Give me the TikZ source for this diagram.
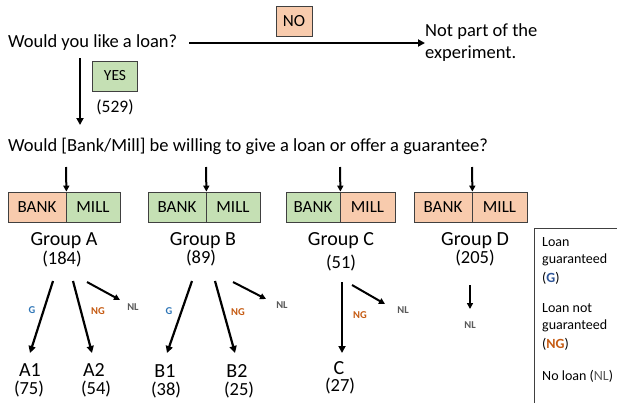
\documentclass[tikz,border=0pt]{standalone}
\usepackage{fontspec}
\setmainfont{Carlito}
\usetikzlibrary{arrows.meta}
\definecolor{orangefill}{HTML}{F8CBAD}
\definecolor{greenfill}{HTML}{C5E0B4}
\definecolor{boxline}{HTML}{404040}
\definecolor{gblue}{HTML}{2E75B6}
\definecolor{ngbrown}{HTML}{C55A11}
\definecolor{nlgray}{HTML}{595959}
\definecolor{legblue}{HTML}{2F5597}
\begin{document}
\begin{tikzpicture}[x=1pt,y=-1pt,
  txt/.style={inner sep=0pt, font=\fontsize{18.5}{22}\selectfont},
  grp/.style={inner sep=0pt, font=\fontsize{20}{22}\selectfont},
  cnt/.style={inner sep=0pt, font=\fontsize{18.5}{20}\selectfont},
  tag/.style={draw=boxline, line width=0.8pt, inner sep=0pt, minimum height=30pt, font=\fontsize{17}{18}\selectfont},
  og/.style={tag, fill=orangefill},
  gr/.style={tag, fill=greenfill},
  lab/.style={inner sep=0pt, font=\fontsize{10.5}{12}\selectfont\bfseries},
  arr/.style={line width=2.2pt, -{Triangle[length=7pt,width=7pt]}},
  sarr/.style={line width=2pt, -{Triangle[length=6pt,width=6pt]}},
  leg/.style={inner sep=0pt, anchor=west, font=\fontsize{14}{16}\selectfont}
]
\useasboundingbox (0,0) rectangle (617,402);

% top part
\node[txt, anchor=west] (q1) at (8,43) {Would you like a loan?};
\node[txt, anchor=west, align=left] (np) at (425,43) {Not part of the\\experiment.};
\draw[arr] (q1.east) ++(12,0) coordinate (hs) -- (np.west |- hs) ;
\node[og, minimum width=36pt] (no) at (294,21) {NO};
\coordinate (vs) at (80,58);
\node[txt, anchor=west] (q2) at (8,146) {Would [Bank/Mill] be willing to give a loan or offer a guarantee?};
\draw[arr] (vs) -- (80,125);
\node[gr, minimum width=45pt, font=\fontsize{15.5}{17}\selectfont] (yes) at (115,76) {YES};
\node[txt, font=\fontsize{17.5}{20}\selectfont] (n529) at (115,107) {(529)};

% boxes
\node[og, minimum width=58pt] (aBank) at (37,207) {BANK};
\node[gr, minimum width=54pt] (aMill) at (93,207) {MILL};
\node[gr, minimum width=58pt] (bBank) at (177,207) {BANK};
\node[gr, minimum width=54pt] (bMill) at (233,207) {MILL};
\node[gr, minimum width=54pt] (cBank) at (313,207) {BANK};
\node[og, minimum width=55pt] (cMill) at (367.5,207) {MILL};
\node[og, minimum width=58pt] (dBank) at (443,207) {BANK};
\node[og, minimum width=55pt] (dMill) at (499.5,207) {MILL};

\coordinate (ta) at (66,167);
\coordinate (tb) at (206,167);
\coordinate (tc) at (340,167);
\coordinate (td) at (472,167);
\draw[sarr] (ta) -- (aBank.north east);
\draw[sarr] (tb) -- (bBank.north east);
\draw[sarr] (tc) -- (cBank.north east);
\draw[sarr] (td) -- (dBank.north east);

% groups
\node[grp] (gA) at (64,241) {Group A};
\node[cnt] (cA) at (62,259) {(184)};
\node[grp] (gB) at (203,241) {Group B};
\node[cnt] (cB) at (201,258) {(89)};
\node[grp] (gC) at (341,241) {Group C};
\node[cnt] (cC) at (341,263) {(51)};
\node[grp] (gD) at (475,241) {Group D};
\node[cnt] (cD) at (475,258) {(205)};

% leaves
\node[grp] (A1) at (30,370) {A1};
\node[cnt] (nA1) at (29,389) {(75)};
\node[grp] (A2) at (94,370) {A2};
\node[cnt] (nA2) at (96,389) {(54)};
\node[grp] (B1) at (165,371) {B1};
\node[cnt] (nB1) at (166,390) {(38)};
\node[grp] (B2) at (237,371) {B2};
\node[cnt] (nB2) at (239,390) {(25)};
\node[grp] (C) at (339,368) {C};
\node[cnt] (nC) at (340,386) {(27)};

% branch labels
\node[lab, text=gblue] (lgA) at (32,310) {G};
\node[lab, text=ngbrown] (lngA) at (98,311) {NG};
\node[lab, text=nlgray] (lnlA) at (133,307) {NL};
\node[lab, text=gblue] (lgB) at (169,311) {G};
\node[lab, text=ngbrown] (lngB) at (238,312) {NG};
\node[lab, text=nlgray] (lnlB) at (282,305) {NL};
\node[lab, text=ngbrown] (lngC) at (360,315) {NG};
\node[lab, text=nlgray] (lnlC) at (403,310) {NL};
\node[lab, text=nlgray] (lnlD) at (470,325) {NL};

% branch arrows
\coordinate (sA1) at (53,281);
\coordinate (sA2) at (73,281);
\coordinate (sA3) at (87,282);
\coordinate (sB1) at (192,281);
\coordinate (sB2) at (215,281);
\coordinate (sB3) at (233,282);
\coordinate (sC1) at (342,282);
\coordinate (sC2) at (352,285);
\coordinate (sD1) at (470,285);
\draw[arr] (sA1) -- (30,353) coordinate (eA1);
\draw[arr] (sA2) -- (92,353) coordinate (eA2);
\draw[sarr] (sA3) -- (120,300) coordinate (eA3);
\draw[arr] (sB1) -- (167,353) coordinate (eB1);
\draw[arr] (sB2) -- (235,353) coordinate (eB2);
\draw[sarr] (sB3) -- (266,299) coordinate (eB3);
\draw[arr] (sC1) -- (342,353) coordinate (eC1);
\draw[sarr] (sC2) -- (385,304) coordinate (eC2);
\draw[sarr] (sD1) -- (470,309) coordinate (eD1);

% legend
\draw[boxline, line width=0.8pt] (620,228) -- (534,228) -- (534,405);
\node[leg] (l1) at (542,242) {Loan};
\node[leg] (l2) at (542,260) {guaranteed};
\node[leg] (l3) at (542,278) {(\textcolor{legblue}{\bfseries G})};
\node[leg] (l4) at (542,308) {Loan not};
\node[leg] (l5) at (542,326) {guaranteed};
\node[leg] (l6) at (542,344) {(\textcolor{ngbrown}{\bfseries NG})};
\node[leg] (l7) at (542,376) {No loan (\textcolor{nlgray}{NL})};
\end{tikzpicture}
\end{document}
